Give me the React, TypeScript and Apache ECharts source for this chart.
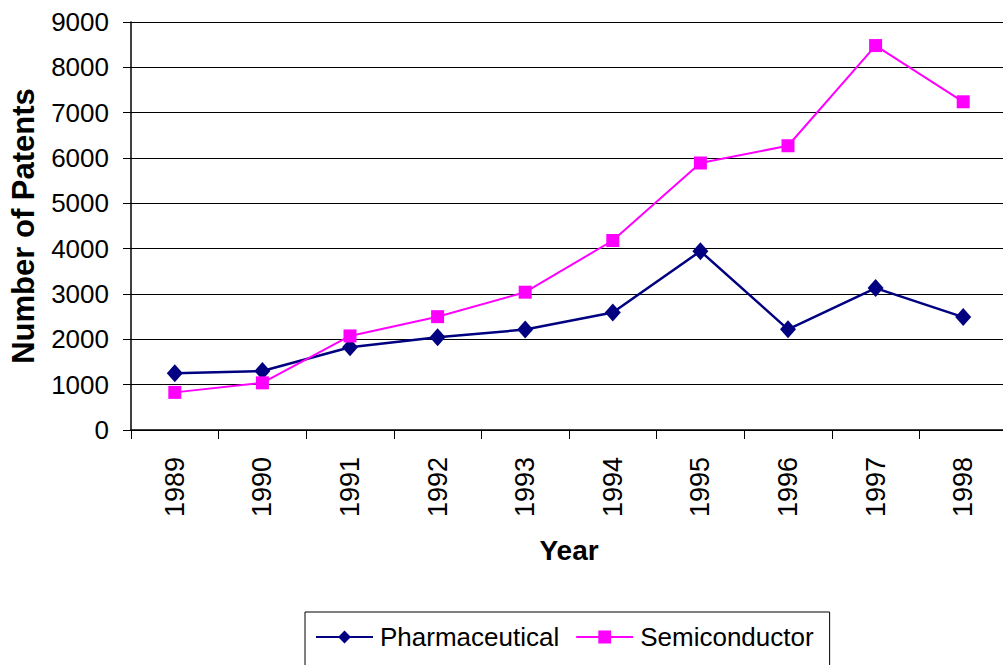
import React, { useEffect, useRef } from "react";
import * as echarts from "echarts";

const years = ["1989", "1990", "1991", "1992", "1993", "1994", "1995", "1996", "1997", "1998"];
const pharmaceutical = [1250, 1300, 1825, 2045, 2215, 2590, 3945, 2220, 3130, 2490];
const semiconductor = [830, 1040, 2075, 2500, 3040, 4180, 5890, 6270, 8480, 7240];
const yTicks = { min: 0, max: 9000, interval: 1000 };

const FONT = "Liberation Sans, Arial, sans-serif";

export default function App() {
  const ref = useRef<HTMLDivElement>(null);
  useEffect(() => {
    if (!ref.current) return;
    const chart = echarts.init(ref.current, undefined, { renderer: "svg" });
    chart.setOption({
      animation: false,
      backgroundColor: "#ffffff",
      textStyle: { fontFamily: FONT },
      grid: { left: 130, right: 1, top: 22, height: 408, containLabel: false },
      legend: {
        left: 305,
        top: 612,
        orient: "horizontal",
        itemWidth: 57,
        itemHeight: 16,
        itemGap: 16,
        borderColor: "#000",
        borderWidth: 1,
        borderRadius: 0,
        padding: [12, 16, 40, 10],
        textStyle: { fontSize: 26, color: "#000", fontFamily: FONT, padding: [0, 0, 0, 2] },
        data: ["Pharmaceutical", "Semiconductor"],
      },
      xAxis: {
        type: "category",
        data: years,
        boundaryGap: true,
        name: "Year",
        nameLocation: "middle",
        nameGap: 106,
        nameTextStyle: { fontSize: 28, fontWeight: "bold", color: "#000", fontFamily: FONT },
        axisLine: { show: true, lineStyle: { color: "#000", width: 1.5 } },
        axisTick: { show: true, length: 9, lineStyle: { color: "#000", width: 1 } },
        axisLabel: { rotate: 90, margin: 27, fontSize: 27, color: "#000", fontFamily: FONT },
        splitLine: { show: false },
      },
      yAxis: {
        type: "value",
        min: yTicks.min,
        max: yTicks.max,
        interval: yTicks.interval,
        name: "Number of Patents",
        nameLocation: "middle",
        nameGap: 92,
        nameTextStyle: { fontSize: 31, fontWeight: "bold", color: "#000", fontFamily: FONT },
        axisLine: { show: true, lineStyle: { color: "#000", width: 1.5 } },
        axisTick: { show: true, length: 8, lineStyle: { color: "#000", width: 1 } },
        axisLabel: {
          margin: 22,
          fontSize: 26,
          color: "#000",
          fontFamily: FONT,
          formatter: (v: number) => String(v),
        },
        splitLine: { show: true, lineStyle: { color: "#000", width: 1 } },
      },
      series: [
        {
          name: "Pharmaceutical",
          type: "line",
          data: pharmaceutical,
          color: "#000080",
          symbol: "diamond",
          symbolSize: [16, 18],
          lineStyle: { color: "#000080", width: 2.5 },
          itemStyle: { color: "#000080" },
        },
        {
          name: "Semiconductor",
          type: "line",
          data: semiconductor,
          color: "#ff00ff",
          symbol: "rect",
          symbolSize: 13,
          lineStyle: { color: "#ff00ff", width: 2 },
          itemStyle: { color: "#ff00ff" },
        },
      ],
    });
    return () => chart.dispose();
  }, []);
  return (
    <div
      style={{
        position: "absolute",
        left: 0,
        top: 0,
        width: 1003,
        height: 665,
        overflow: "hidden",
        background: "#fff",
      }}
    >
      <div ref={ref} style={{ width: 1008, height: 665 }} />
    </div>
  );
}
